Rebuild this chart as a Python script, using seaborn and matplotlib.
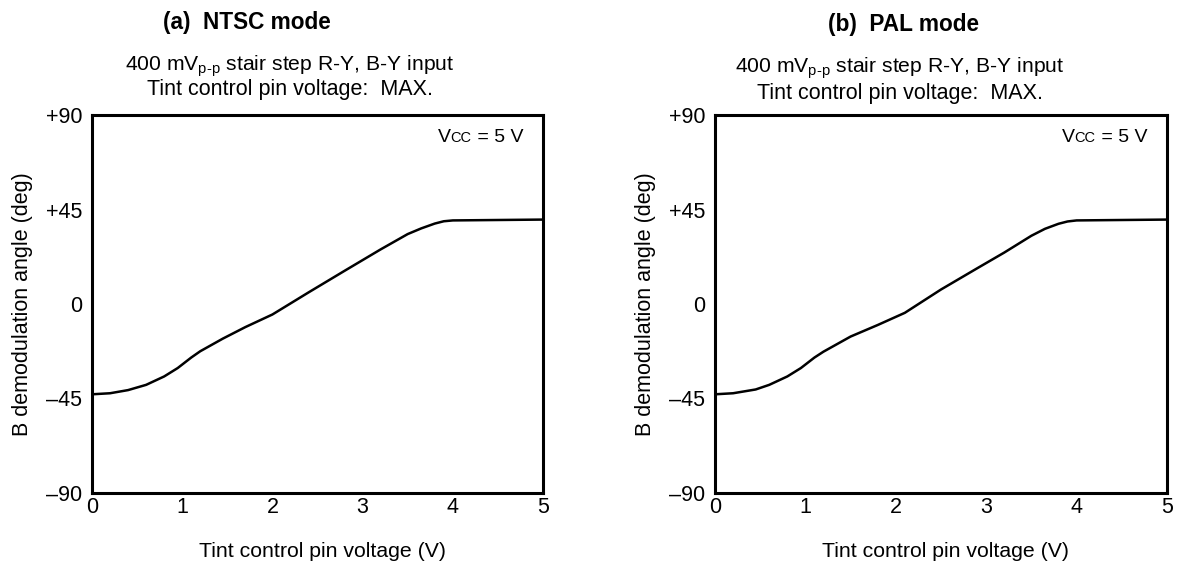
import matplotlib
matplotlib.use("Agg")
import matplotlib.pyplot as plt
import seaborn as sns
import pandas as pd

# ---- data ----
ntsc_v = [0.0, 0.2, 0.4, 0.6, 0.8, 0.95, 1.1, 1.2, 1.45, 1.7, 2.0, 2.4, 2.8, 3.2, 3.5, 3.65, 3.8, 3.9, 4.0, 4.5, 5.0]
ntsc_deg = [-43.0, -42.5, -41.0, -38.5, -34.5, -30.5, -25.5, -22.5, -16.5, -11.0, -5.0, 5.5, 15.8, 26.0, 33.3, 36.0, 38.3, 39.4, 39.8, 40.0, 40.2]
pal_v = [0.0, 0.2, 0.45, 0.6, 0.8, 0.95, 1.1, 1.2, 1.5, 1.8, 2.1, 2.5, 2.9, 3.2, 3.5, 3.65, 3.8, 3.9, 4.0, 4.5, 5.0]
pal_deg = [-43.0, -42.5, -40.7, -38.5, -34.5, -30.5, -25.5, -22.7, -15.5, -10.0, -4.2, 6.9, 17.0, 24.5, 32.5, 35.8, 38.2, 39.3, 39.8, 40.0, 40.2]

x_ticks = [0, 1, 2, 3, 4, 5]
y_ticks = [-90, -45, 0, 45, 90]
y_tick_labels = ["\u201390", "\u201345", "0", "+45", "+90"]

panel_titles = ["(a)  NTSC mode", "(b)  PAL mode"]
subtitle1 = r"400 mV$_{\text{p-p}}$ stair step R-Y, B-Y input"
subtitle2 = "Tint control pin voltage:  MAX."
xlabel = "Tint control pin voltage (V)"
ylabel = "B demodulation angle (deg)"

sns.set_theme(style="white")
plt.rcParams["font.family"] = ["Liberation Sans", "DejaVu Sans"]
plt.rcParams["mathtext.fontset"] = "custom"
plt.rcParams["mathtext.rm"] = "Liberation Sans"
plt.rcParams["mathtext.it"] = "Liberation Sans:italic"
plt.rcParams["mathtext.bf"] = "Liberation Sans:bold"

W, H = 1177, 563
fig = plt.figure(figsize=(W / 100, H / 100), dpi=100)

ax_boxes = [(92, 115, 543, 493), (715, 115, 1167, 493)]
title_pos = [(247, 22), (904, 24)]
sub_pos = [(290, 66, 90), (900, 68, 93)]
data = [(ntsc_v, ntsc_deg), (pal_v, pal_deg)]

for i, (l, t, r, b) in enumerate(ax_boxes):
    ax = fig.add_axes([l / W, 1 - b / H, (r - l) / W, (b - t) / H])
    df = pd.DataFrame({"v": data[i][0], "deg": data[i][1]})
    sns.lineplot(data=df, x="v", y="deg", ax=ax, color="black", lw=1.8,
                 sort=False, estimator=None)
    for ln in ax.lines:
        ln.set_solid_joinstyle("round")
        ln.set_solid_capstyle("round")
    ax.set_xlim(0, 5)
    ax.set_ylim(-90, 90)
    ax.set_xticks(x_ticks)
    ax.set_xticklabels([str(t_) for t_ in x_ticks])
    ax.set_yticks(y_ticks)
    ax.set_yticklabels(y_tick_labels)
    ax.tick_params(axis="both", direction="in", length=7, width=0.8,
                   color="#666666", labelsize=15.5, labelcolor="black")
    ax.tick_params(axis="y", pad=7)
    ax.tick_params(axis="x", pad=3)
    for s in ax.spines.values():
        s.set_linewidth(2.2)
        s.set_color("black")
        s.set_visible(True)
    ax.set_xlabel(xlabel, fontsize=15.3, color="black")
    ax.set_ylabel(ylabel, fontsize=15.5, color="black")
    ax.xaxis.set_label_coords(0.51, -0.129)
    ax.xaxis.label.set_va("top")
    ax.yaxis.set_label_coords(-0.130, 0.5)
    ax.grid(False)

    tx, ty = title_pos[i]
    fig.text(tx / W, 1 - ty / H, panel_titles[i], ha="center", va="center",
             fontsize=16.3, fontweight="bold", color="black")
    sx, s1, s2 = sub_pos[i]
    fig.text(sx / W, 1 - s1 / H, subtitle1, ha="center", va="center",
             fontsize=15.2, color="black")
    fig.text(sx / W, 1 - s2 / H, subtitle2, ha="center", va="center",
             fontsize=15.5, color="black")

# Vcc labels: "V" + small "CC" on baseline + " = 5 V"
fig.canvas.draw()
renderer = fig.canvas.get_renderer()
for i, (l, t, r, b) in enumerate(ax_boxes):
    right_px = r - 20
    base_px = 142
    y_fig = 1 - base_px / H
    t3 = fig.text(right_px / W, y_fig, " = 5 V", ha="right", va="baseline",
                  fontsize=14, color="black")
    bb = t3.get_window_extent(renderer)
    t2 = fig.text(bb.x0 / W, y_fig, "CC", ha="right", va="baseline",
                  fontsize=10.5, color="black")
    bb2 = t2.get_window_extent(renderer)
    fig.text(bb2.x0 / W, y_fig, "V", ha="right", va="baseline",
             fontsize=14, color="black")

fig.savefig("out.png", dpi=100)
